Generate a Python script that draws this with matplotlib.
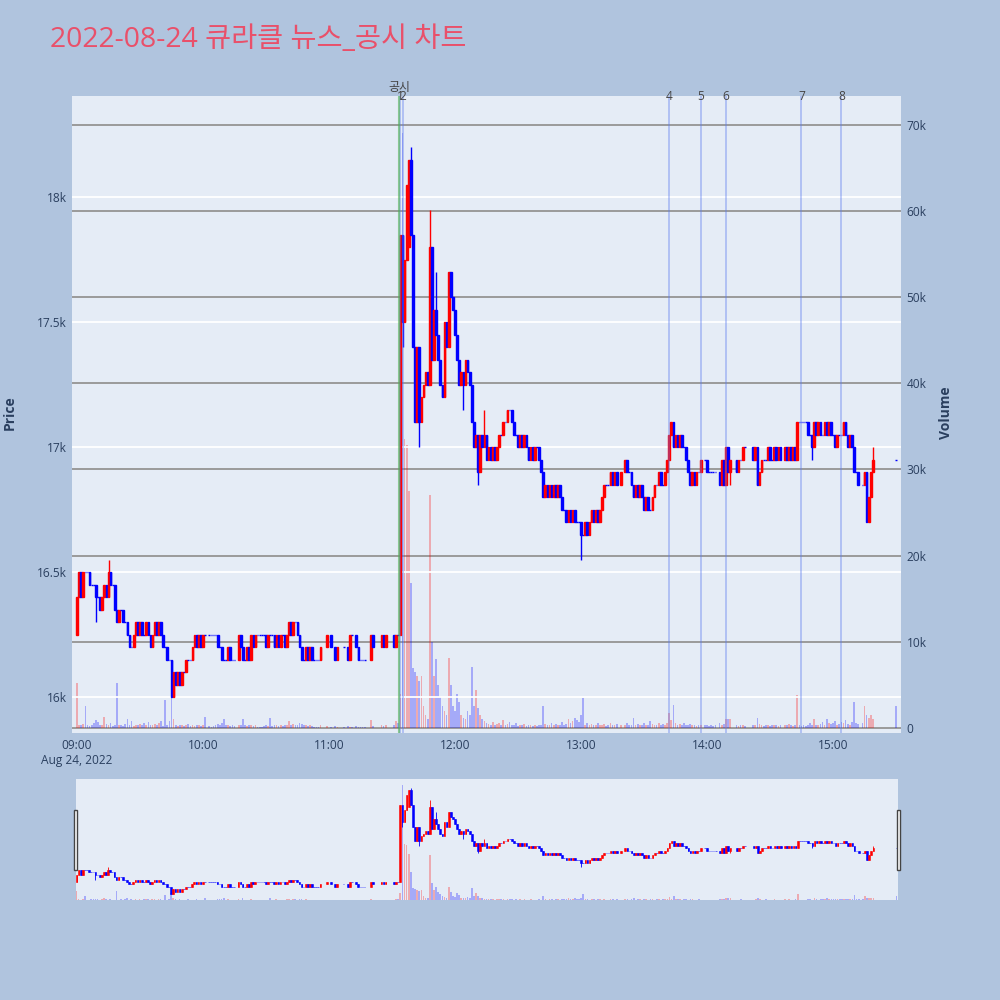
import numpy as np
import matplotlib.pyplot as plt
from matplotlib.patches import Rectangle
from matplotlib.transforms import blended_transform_factory

plt.rcParams['font.family'] = ['Open Sans', 'Noto Sans CJK KR', 'DejaVu Sans']

TITLE = "2022-08-24 큐라클 뉴스_공시 차트"

# ---- 1-minute closes (None = no trade), minute 0 = 09:00 ----
close_09 = [16400, 16500, 16400, 16500, 16500, 16500, 16450, 16450, 16450, 16400,
            16400, 16350, 16400, 16450, 16400, 16500, 16450, 16450, 16350, 16300,
            16350, 16350, 16300, 16300, 16250, 16200, 16200, 16250, 16300, 16250,
            16300, 16250, 16250, 16300, 16250, 16200, 16250, 16300, 16250, 16300,
            16250, 16200, 16200, 16150, 16150, 16000, 16100, 16050, 16100, 16050,
            16100, 16100, 16150, 16150, 16150, 16200, 16250, 16200, 16250, 16200]
close_10 = [16250, 16250, None, 16250, 16250, 16250, 16250, 16200, 16200, 16150,
            16150, 16150, 16200, 16150, 16150, 16150, None, 16250, 16200, 16150,
            16150, 16200, 16150, 16250, 16200, 16250, 16250, 16250, 16250, 16250,
            16200, 16250, 16250, 16250, 16200, 16250, 16200, 16250, 16250, 16200,
            16250, 16300, 16250, 16300, 16300, 16250, 16200, 16150, 16150, 16200,
            16150, 16200, 16150, 16150, 16150, 16150, 16200, None, None, 16250]
close_11 = [None, 16200, None, 16150, 16200, None, None, 16200, None, 16150,
            16250, 16250, None, 16200, 16150, 16150, 16150, 16150, None, None,
            16250, 16200, None, None, None, 16250, 16200, 16250, None, None,
            None, 16200, 16250, 16250, 17850, 17500, 17750, 18050, 18150, 17850,
            17400, 17100, 17400, 17100, 17200, 17250, 17300, 17250, 17800, 17350,
            17550, 17450, 17350, 17250, 17200, 17500, 17400, 17700, 17600, 17550]
close_12 = [17450, 17350, 17250, 17300, 17250, 17350, 17300, 17250, 17100, 17000,
            17050, 16900, 17050, 17000, 17050, 16950, 17000, 16950, 17000, 16950,
            17000, 17050, 17050, 17100, 17100, 17150, 17150, 17100, 17050, 17050,
            17000, 17050, 17000, 17050, 17000, 16950, 17000, 16950, 17000, 17000,
            16950, 16900, 16800, 16850, 16800, 16850, 16800, 16850, 16800, 16850,
            16800, 16750, 16750, 16700, 16750, 16700, 16750, 16700, 16700, 16700]
close_13 = [16650, 16650, 16700, 16650, 16700, 16750, 16700, 16750, 16700, 16750,
            16800, 16850, 16850, 16850, 16900, 16850, 16900, 16850, None, 16900,
            None, 16950, 16900, 16900, 16850, 16800, 16850, 16800, 16850, 16800,
            16750, 16800, 16750, 16750, 16800, 16850, 16850, 16900, 16850, 16850,
            16900, 16950, 17050, 17100, 17000, 17050, 17000, 17050, 17000, 17000,
            16950, 16900, 16850, 16900, 16850, 16900, 16900, 16950, None, 16950]
close_14 = [16900, 16900, 16900, 16900, 16900, None, 16850, 16950, 16850, 17000,
            16900, 16950, None, None, 16900, 16950, 16950, 17000, 17000, None,
            None, None, 16950, 17000, 16850, 16900, 16950, 16950, 16950, 17000,
            16950, 16950, 17000, 16950, 17000, 16950, None, 17000, 16950, 17000,
            16950, 17000, 16950, 17100, 17100, 17100, 17100, 17100, 17050, 17050,
            17000, 17100, 17050, 17100, 17050, 17050, 17100, 17050, 17100, 17050]
close_15 = [17050, 17000, 17050, 17050, 17050, 17100, 17050, 17000, 17050, 17000,
            16900, 16900, 16850, None, 16850, 16900, 16700, 16800, 16900, 16950,
            None, None, None, None, None, None, None, None, None, None, 16950]

first_open = 16250
open_override = {154: 16250, 158: 17800}
high_extra = {15: 16550, 159: 18200, 168: 17950, 171: 17700, 194: 17150,
              283: 17100, 379: 17000}
low_extra = {9: 16300, 155: 17400, 163: 17000, 184: 17150, 191: 16850,
             240: 16550, 311: 16850, 350: 16950}

# ---- 1-minute volume ----
vol_09 = [5200, 400, 300, 500, 2500, 300, 200, 400, 600, 900,
          700, 300, 400, 1300, 500, 300, 600, 200, 300, 5200,
          300, 400, 200, 500, 1000, 300, 800, 200, 400, 300,
          500, 300, 600, 400, 700, 300, 400, 500, 300, 600,
          800, 200, 3300, 300, 800, 4000, 1000, 400, 200, 400,
          300, 200, 300, 500, 200, 300, 200, 400, 300, 200]
vol_10 = [300, 1300, 0, 200, 150, 200, 300, 500, 400, 600,
          1100, 300, 400, 200, 300, 200, 0, 400, 300, 1000,
          300, 200, 300, 400, 200, 300, 150, 100, 150, 200,
          300, 200, 1200, 200, 300, 400, 200, 300, 200, 300,
          400, 800, 300, 500, 400, 300, 600, 500, 300, 400,
          200, 300, 200, 100, 150, 100, 300, 0, 0, 200]
vol_11 = [0, 150, 0, 200, 150, 0, 0, 100, 0, 200,
          150, 100, 0, 200, 100, 150, 100, 100, 0, 0,
          900, 200, 0, 0, 0, 300, 200, 300, 0, 0,
          0, 300, 800, 600, 4000, 69000, 33500, 32800, 27500, 16800,
          7000, 6500, 6000, 5500, 6000, 2500, 1500, 1000, 27000, 10000,
          6000, 8000, 5000, 3600, 2500, 2000, 1500, 8100, 5000, 2500]
vol_12 = [2000, 4000, 3000, 1500, 1200, 1000, 2000, 1500, 7100, 2500,
          4400, 2300, 1500, 1000, 800, 600, 500, 400, 700, 300,
          500, 600, 400, 900, 300, 500, 700, 400, 300, 600,
          200, 400, 300, 500, 200, 300, 400, 200, 300, 200,
          400, 300, 2500, 500, 300, 400, 600, 300, 500, 400,
          300, 700, 400, 500, 1000, 600, 800, 1200, 900, 700]
vol_13 = [1500, 3500, 400, 600, 300, 500, 400, 300, 600, 400,
          300, 500, 200, 300, 600, 400, 300, 500, 0, 300,
          0, 400, 600, 300, 400, 1200, 300, 500, 400, 300,
          600, 400, 300, 800, 500, 300, 400, 600, 300, 500,
          400, 600, 1700, 900, 2700, 600, 400, 500, 300, 600,
          400, 300, 500, 400, 300, 200, 400, 300, 0, 300]
vol_14 = [300, 200, 300, 200, 300, 0, 600, 400, 500, 1000,
          1100, 1100, 0, 0, 300, 200, 400, 300, 200, 0,
          0, 0, 300, 400, 1200, 500, 300, 200, 400, 300,
          200, 300, 400, 300, 200, 300, 0, 400, 300, 500,
          300, 200, 400, 3800, 300, 200, 300, 200, 400, 600,
          300, 1000, 400, 300, 500, 700, 400, 1000, 600, 500]
vol_15 = [600, 800, 400, 500, 700, 600, 900, 500, 400, 700,
          3000, 600, 500, 0, 600, 2600, 1500, 1200, 1500, 1000,
          0, 0, 0, 0, 0, 0, 0, 0, 0, 0, 2500]

# vertical marker lines (minutes after 09:00)
event_labels = ["1", "2", "4", "5", "6", "7", "8"]
event_minutes = [154, 155, 282, 297, 309, 345, 364]
notice_minute = 154  # 공시

hour_ticks = [0, 60, 120, 180, 240, 300, 360]
hour_labels = ["09:00\nAug 24, 2022", "10:00", "11:00", "12:00", "13:00", "14:00", "15:00"]

# ---- assemble OHLC ----
closes = close_09 + close_10 + close_11 + close_12 + close_13 + close_14 + close_15
vols = vol_09 + vol_10 + vol_11 + vol_12 + vol_13 + vol_14 + vol_15

rows = []
prev = first_open
for m, c in enumerate(closes):
    if c is None:
        continue
    o = open_override.get(m, prev)
    h = max(o, c, high_extra.get(m, c))
    l = min(o, c, low_extra.get(m, c))
    rows.append((m, o, h, l, c))
    prev = c
rows = np.array(rows, dtype=float)
t, o, h, l, c = rows.T
up = c > o
col = np.where(up, "#ff0000", "#0000ff")
vt = np.arange(len(vols))
vcol = []
last_up = True
up_by_min = dict(zip(t.astype(int), up))
for m in vt:
    last_up = up_by_min.get(m, last_up)
    vcol.append("#ff0000" if last_up else "#0000ff")

BG = "#b0c4de"
PLOT_BG = "#e5ecf6"
TXT = "#2a3f5f"


def draw(axp, axv, body_lw, wick_lw):
    axv.bar(vt, vols, width=0.8, color=vcol, alpha=0.28, linewidth=0)
    axp.vlines(t, l, h, colors=col, linewidth=wick_lw, zorder=3)
    axp.bar(t, np.abs(c - o), bottom=np.minimum(o, c), width=0.8, color=col,
            edgecolor=col, linewidth=body_lw, zorder=3)


fig = plt.figure(figsize=(10, 10), dpi=100, facecolor=BG)
fig.text(0.05, 0.96, TITLE, fontsize=20.4, color="#e9506a", va="center", ha="left")

# ---- main chart ----
axv = fig.add_axes([0.072, 0.267, 0.829, 0.637])
axv.set_facecolor(PLOT_BG)
axp = axv.twinx()
draw(axp, axv, 1.0, 1.0)

axv.set_xlim(-2.4, 392.4)
axp.set_ylim(15856, 18404)
axv.set_ylim(-580, 73320)

axv.yaxis.tick_right()
axp.yaxis.tick_left()
axv.set_yticks(range(0, 70001, 10000))
axv.set_yticklabels(["0"] + [f"{k}k" for k in range(10, 71, 10)])
axp.set_yticks([16000, 16500, 17000, 17500, 18000])
axp.set_yticklabels(["16k", "16.5k", "17k", "17.5k", "18k"])
axv.set_xticks(hour_ticks)
axv.set_xticklabels(hour_labels)
for a in (axv, axp):
    a.tick_params(length=0, labelsize=8.6, labelcolor=TXT, pad=4)
    for s in a.spines.values():
        s.set_visible(False)
axv.grid(axis="y", color="#9a9a9a", linewidth=1.4)
axp.grid(axis="y", color="white", linewidth=1.3)
axv.set_axisbelow(True)
axp.set_axisbelow(True)

for m in event_minutes:
    axp.axvline(m, color="#5b7cf0", alpha=0.45, linewidth=1.2, zorder=4)
axp.axvline(notice_minute - 0.5, color="#4caf50", alpha=0.6, linewidth=1.5, zorder=4)

tr = blended_transform_factory(axp.transData, axp.transAxes)
for lab, m in zip(event_labels, event_minutes):
    axp.text(m, 1.0, lab, transform=tr, ha="center", va="center",
             fontsize=8.6, color="#444444", zorder=5)
axp.text(notice_minute - 0.5, 1.003, "공시", transform=tr, ha="center", va="bottom",
         fontsize=8.6, color="#444444")

fig.text(0.010, 0.587, "Price", rotation=90, fontsize=10, fontweight="bold",
         color=TXT, ha="center", va="center")
fig.text(0.946, 0.587, "Volume", rotation=90, fontsize=10, fontweight="bold",
         color=TXT, ha="center", va="center")

# ---- range slider ----
sv = fig.add_axes([0.0755, 0.100, 0.8225, 0.121])
sv.set_facecolor(PLOT_BG)
sp = sv.twinx()
draw(sp, sv, 0.4, 0.6)
sv.set_xlim(-0.5, 390.7)
sp.set_ylim(15874, 18389)
sv.set_ylim(0, 72600)
for a in (sv, sp):
    a.set_xticks([])
    a.set_yticks([])
    for s in a.spines.values():
        s.set_visible(False)
for hx in (0.0737, 0.8965):
    fig.patches.append(Rectangle((hx, 0.130), 0.0036, 0.060, transform=fig.transFigure,
                                 facecolor="white", edgecolor="#444444", linewidth=1))

fig.savefig("out.png", dpi=100, facecolor=BG)
